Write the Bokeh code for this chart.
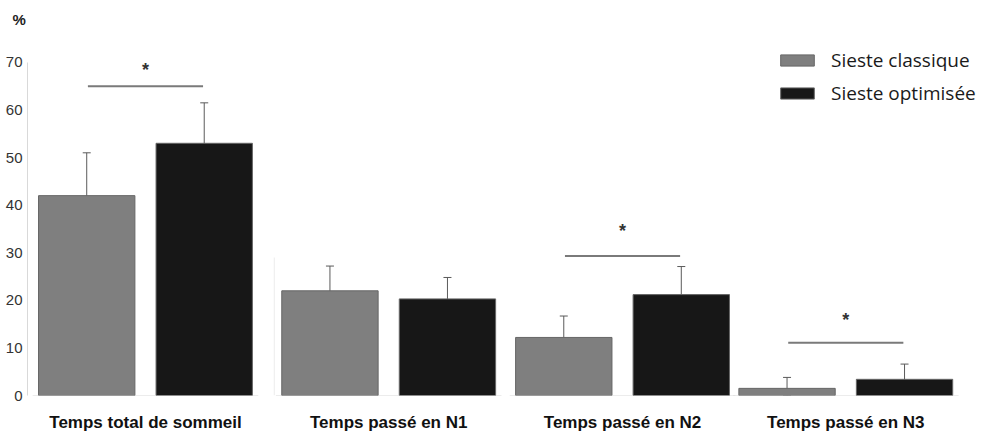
from bokeh.plotting import figure
from bokeh.models import (Range1d, FixedTicker, Whisker, ColumnDataSource, Legend,
                          LegendItem, Title, TeeHead)
from bokeh.core.properties import value
from bokeh.embed import file_html
from bokeh.resources import INLINE

# ---- data ----
categories = ["Temps total de sommeil", "Temps passé en N1", "Temps passé en N2", "Temps passé en N3"]
series = ["Sieste classique", "Sieste optimisée"]
classique = [42.0, 22.0, 12.2, 1.5]
optimisee = [53.0, 20.3, 21.2, 3.4]
err_classique = [9.0, 5.2, 4.5, 2.3]
err_optimisee = [8.5, 4.5, 5.9, 3.2]
sig_groups = [0, 2, 3]
sig_levels = [65.0, 29.3, 11.1]
star_levels = [68.5, 34.6, 15.9]
y_ticks = [0, 10, 20, 30, 40, 50, 60, 70]

# ---- layout ----
centers = [0.0, 1.035, 2.03, 2.98]
off = 0.25
bw = 0.41
C_GREY = "#7f7f7f"
C_BLACK = "#171717"

p = figure(width=983, height=434, output_backend="svg", toolbar_location=None,
           x_range=Range1d(-0.502, 3.566), y_range=Range1d(0, 76.7),
           min_border_left=27, min_border_right=0, min_border_top=30, min_border_bottom=38,
           title=None)
p.outline_line_color = None
p.background_fill_color = "white"
p.grid.visible = False

# "%" unit label on top-left
p.add_layout(Title(text="%", align="left", offset=-15, standoff=6, text_font="Liberation Sans",
                   text_font_style="bold", text_font_size="15px", text_color="#222222"), "above")

# axes
p.yaxis.ticker = FixedTicker(ticks=y_ticks)
p.yaxis.bounds = (0, 70)
p.yaxis.axis_line_color = "#d9d9d9"
p.yaxis.major_tick_line_color = None
p.yaxis.major_tick_out = 0
p.yaxis.minor_tick_line_color = None
p.yaxis.minor_tick_out = 0
p.yaxis.major_label_standoff = 5
p.yaxis.major_label_text_font = "Liberation Sans"
p.yaxis.major_label_text_font_size = "15px"
p.yaxis.major_label_text_color = "#333333"

p.xaxis.ticker = FixedTicker(ticks=centers)
p.xaxis.major_label_overrides = {c: cat for c, cat in zip(centers, categories)}
p.xaxis.axis_line_color = None
p.xaxis.major_tick_line_color = None
p.xaxis.major_tick_out = 0
p.xaxis.minor_tick_line_color = None
p.xaxis.minor_tick_out = 0
p.xaxis.major_label_standoff = 17
p.xaxis.major_label_text_font = "Liberation Sans"
p.xaxis.major_label_text_font_style = "bold"
p.xaxis.major_label_text_font_size = "17px"
p.xaxis.major_label_text_color = "#111111"

# baselines of each panel
p.segment(x0=[c - 0.48 for c in centers], y0=[0] * 4, x1=[c + 0.48 for c in centers], y1=[0] * 4,
          line_color="#d9d9d9", line_width=1)
p.segment(x0=[centers[1] - 0.487], y0=[0], x1=[centers[1] - 0.487], y1=[29], line_color="#ececec", line_width=1)

# bars
src_c = ColumnDataSource(dict(x=[c - off for c in centers], top=classique,
                              upper=[v + e for v, e in zip(classique, err_classique)],
                              lower=[max(0, v - e) for v, e in zip(classique, err_classique)]))
src_o = ColumnDataSource(dict(x=[c + off for c in centers], top=optimisee,
                              upper=[v + e for v, e in zip(optimisee, err_optimisee)],
                              lower=[max(0, v - e) for v, e in zip(optimisee, err_optimisee)]))
r_c = p.vbar(x="x", top="top", bottom=0, width=bw, source=src_c, fill_color=C_GREY, line_color="#666666")
r_o = p.vbar(x="x", top="top", bottom=0, width=bw, source=src_o, fill_color=C_BLACK, line_color="#666666")

for src in (src_c, src_o):
    w = Whisker(base="x", upper="upper", lower="lower", source=src, line_color="#5a5a5a", line_width=1,
                upper_head=TeeHead(size=8, line_color="#5a5a5a", line_width=1),
                lower_head=TeeHead(size=8, line_color="#5a5a5a", line_width=1))
    p.add_layout(w)

# significance
sx0 = [centers[g] - 0.245 for g in sig_groups]
sx1 = [centers[g] + 0.245 for g in sig_groups]
p.segment(x0=sx0, y0=sig_levels, x1=sx1, y1=sig_levels, line_color="#7a7a7a", line_width=2)
p.text(x=[centers[g] for g in sig_groups], y=star_levels, text=["*"] * len(sig_groups),
       text_align="center", text_baseline="alphabetic", text_font=value("Liberation Sans"),
       text_font_style="bold", text_font_size="18px", text_color="#333333")

# legend
legend = Legend(items=[LegendItem(label=series[0], renderers=[r_c]),
                       LegendItem(label=series[1], renderers=[r_o])],
                location=(749, 289), orientation="vertical",
                glyph_width=42, glyph_height=14, label_height=14, spacing=7,
                padding=0, margin=0, border_line_color=None, background_fill_alpha=0,
                label_text_font="Open Sans", label_text_font_size="19px", label_text_color="#1a1a1a",
                label_standoff=13)
p.add_layout(legend)

open("out.html", "w").write(file_html(p, INLINE))
